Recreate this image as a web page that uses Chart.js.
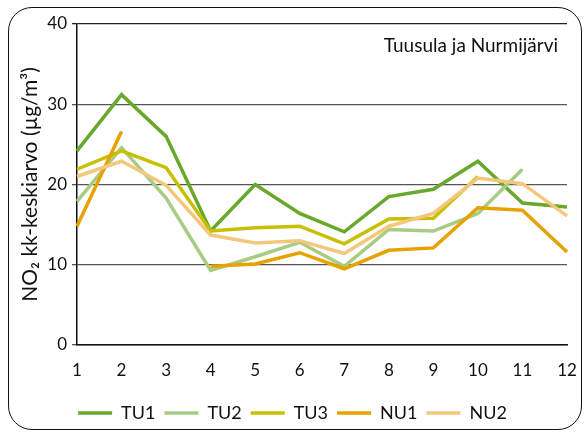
<!DOCTYPE html>
<html lang="fi">
<head>
  <meta charset="UTF-8">
  <title>NO2 kk-keskiarvo</title>
  <script src="https://cdn.jsdelivr.net/npm/chart.js"></script>
  <style>
    html, body {
      margin: 0;
      padding: 0;
      background: #fff;
    }
    .wrap {
      position: relative;
      width: 584px;
      height: 432px;
      overflow: hidden;
    }
    .frame {
      position: absolute;
      left: 8px;
      top: 7px;
      width: 572px;
      height: 421px;
      border: 1.5px solid #111;
      border-radius: 24px;
      pointer-events: none;
    }
    canvas {
      position: absolute;
      left: 0;
      top: 0;
    }
  </style>
</head>
<body>
  <div class="wrap">
    <canvas id="no2Chart" width="584" height="432"></canvas>
    <div class="frame"></div>
  </div>

  <script>
    // kuukaudet 1..12
    const months = ['1', '2', '3', '4', '5', '6', '7', '8', '9', '10', '11', '12'];
    const yTicks = [0, 10, 20, 30, 40];

    const TU1 = [24.2, 31.2, 26.0, 14.2, 20.0, 16.4, 14.1, 18.5, 19.4, 22.9, 17.7, 17.2];
    const TU2 = [17.9, 24.6, 18.3, 9.3, 11.0, 12.8, 9.8, 14.4, 14.2, 16.4, 21.9, null];
    const TU3 = [21.9, 24.2, 22.1, 14.2, 14.6, 14.8, 12.6, 15.7, 15.8, 21.0, null, null];
    const NU1 = [14.8, 26.6, null, 9.8, 10.1, 11.5, 9.5, 11.8, 12.1, 17.1, 16.8, 11.6];
    const NU2 = [21.0, 22.9, 19.9, 13.7, 12.7, 13.0, 11.4, 14.8, 16.4, 20.8, 20.1, 16.1];

    const seriesNames = ['TU1', 'TU2', 'TU3', 'NU1', 'NU2'];
    const seriesData = [TU1, TU2, TU3, NU1, NU2];
    const seriesColors = ['#68a82a', '#a8cc84', '#c6c000', '#e8a200', '#f4c87c'];

    const FONT = 'Lato, "DejaVu Sans", sans-serif';

    // Teksti oikeaan yläkulmaan
    const cornerText = {
      id: 'cornerText',
      afterDraw(chart) {
        const ctx = chart.ctx;
        ctx.save();
        ctx.font = '19px ' + FONT;
        ctx.fillStyle = '#111';
        ctx.textAlign = 'right';
        ctx.textBaseline = 'alphabetic';
        ctx.fillText('Tuusula ja Nurmijärvi', 558, 52);
        ctx.restore();
      }
    };

    const datasets = seriesNames.map((name, i) => ({
      label: name,
      data: seriesData[i],
      borderColor: seriesColors[i],
      backgroundColor: seriesColors[i],
      borderWidth: 3.5,
      pointRadius: 0,
      tension: 0,
      spanGaps: false,
      order: seriesNames.length - i
    }));

    new Chart(document.getElementById('no2Chart'), {
      type: 'line',
      data: {
        labels: months,
        datasets: datasets
      },
      options: {
        responsive: false,
        animation: false,
        layout: {
          padding: { top: 24, right: 17, left: 18, bottom: 0 }
        },
        plugins: {
          legend: {
            position: 'bottom',
            labels: {
              usePointStyle: true,
              pointStyle: 'line',
              pointStyleWidth: 34,
              padding: 9,
              color: '#111',
              font: { family: FONT, size: 18 },
              sort: (a, b) => a.datasetIndex - b.datasetIndex
            }
          },
          tooltip: { enabled: false }
        },
        scales: {
          x: {
            offset: false,
            grid: { display: false },
            border: { display: true, color: '#111', width: 1.5 },
            ticks: {
              color: '#111',
              font: { family: FONT, size: 17 },
              padding: 7,
              maxRotation: 0
            },
            afterFit(scale) { scale.height = 50; }
          },
          y: {
            min: 0,
            max: 40,
            afterBuildTicks(scale) {
              scale.ticks = yTicks.map(v => ({ value: v }));
            },
            grid: {
              color: ctx => ctx.tick && ctx.tick.value === 40 ? '#222' : '#555',
              lineWidth: 1.3,
              tickLength: 5
            },
            border: { display: true, color: '#111', width: 1.5 },
            ticks: {
              color: '#111',
              font: { family: FONT, size: 17 },
              padding: 5
            },
            title: {
              display: true,
              text: 'NO\u2082 kk-keskiarvo (\u00b5g/m\u00b3)',
              color: '#111',
              font: { family: FONT, size: 21 },
              padding: 0
            },
            afterFit(scale) { scale.width = 59; }
          }
        }
      },
      plugins: [cornerText]
    });
  </script>
</body>
</html>
